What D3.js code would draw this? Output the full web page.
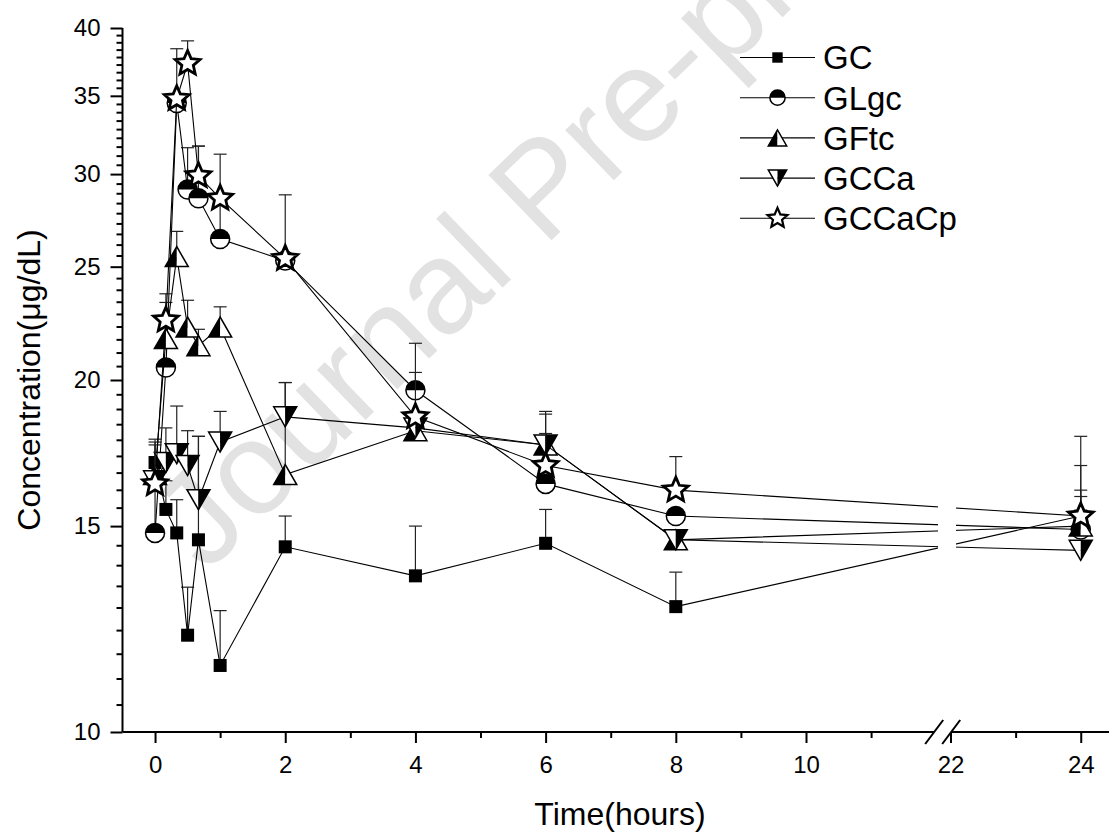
<!DOCTYPE html>
<html><head><meta charset="utf-8">
<script src="https://cdn.jsdelivr.net/npm/d3@7"></script>
<style>body{margin:0;background:#fff} text{font-family:"Liberation Sans",Arial,sans-serif}</style>
</head><body><svg id="c" width="1109" height="832"></svg>
<script>
// ---------------- data ----------------
const times = [0, 1/6, 1/3, 0.5, 2/3, 1, 2, 4, 6, 8, 24];
const seriesNames = ["GC", "GLgc", "GFtc", "GCCa", "GCCaCp"];
const GC       = [17.0, 15.5, 14.8, 12.1, 14.6, 11.4, 14.4, 13.6, 14.5, 12.8, 15.3];
const GC_sd    = [0.7, 0.9, 1.0, 1.2, 3.3, 1.3, 0.9, 1.4, 1.0, 0.9, 2.6];
const GLgc     = [14.8, 20.5, 34.5, 29.1, 28.6, 26.4, 25.3, 19.6, 16.3, 15.3, 14.9];
const GLgc_sd  = [3.0, 0, 0, 2.5, 3.1, 4.8, 3.5, 1.9, 0, 0, 2.0];
const GFtc     = [16.6, 21.7, 25.5, 22.2, 21.4, 22.2, 16.6, 18.1, 17.6, 14.6, 15.0];
const GFtc_sd  = [0, 1.6, 1.3, 1.2, 0.7, 0.9, 3.3, 0, 1.2, 0, 1.1];
const GCCa     = [16.4, 17.0, 17.3, 16.9, 15.8, 17.7, 18.6, 18.2, 17.6, 14.6, 14.3];
const GCCa_sd  = [0, 1.2, 1.7, 1.2, 2.1, 1.1, 1.3, 0, 1.1, 0, 0];
const GCCaCp   = [16.3, 22.5, 34.8, 37.3, 29.9, 28.6, 25.4, 18.6, 16.9, 16.1, 15.3];
const GCCaCp_sd= [1.3, 1.2, 3.6, 1.7, 1.8, 0, 0, 1.7, 1.1, 1.1, 0.6];
const markerTypes = ["square", "circle", "triUp", "triDown", "star"];

const yMajorTicks = [10, 15, 20, 25, 30, 35, 40];
const xTicksLeft = [0, 2, 4, 6, 8, 10];
const xMinorLeft = [1, 3, 5, 7, 9, 11];
const xTicksRight = [22, 24];
const xMinorRight = [23];
const xTitle = "Time(hours)";
const yTitle = "Concentration(μg/dL)";
const watermark = "Journal Pre-proof";

// ---------------- scales ----------------
const svg = d3.select("#c");
svg.append("rect").attr("width", 1109).attr("height", 832).attr("fill", "#fff");

const breakAt = [12.1, 21.88];
const xL = d3.scaleLinear().domain([-0.5, breakAt[0]]).range([122.5, 942.7]);
const xR = d3.scaleLinear().domain([breakAt[1], 24.5]).range([942.7, 1113.3]);
const x = t => (t <= breakAt[0] ? xL(t) : xR(t));
const y = d3.scaleLog().domain([10, 40]).range([732, 28]);
const xb = xL(breakAt[0]);
const axisY = y(10), axisX = xL(-0.5);

// ---------------- watermark ----------------
svg.append("text").text(watermark)
  .attr("transform", "translate(206,574) rotate(-44)")
  .attr("font-size", 132).attr("fill", "#e2e2e2");

// ---------------- axes ----------------
const axG = svg.append("g");
axG.append("line").attr("x1", axisX).attr("x2", xb - 8.5).attr("y1", axisY).attr("y2", axisY)
  .attr("stroke", "#000").attr("stroke-width", 2);
axG.append("line").attr("x1", xb + 8.5).attr("x2", xR(24.5)).attr("y1", axisY).attr("y2", axisY)
  .attr("stroke", "#000").attr("stroke-width", 2);
[-8.5, 8.5].forEach(o => {
  axG.append("line").attr("x1", xb + o - 9).attr("y1", axisY + 12).attr("x2", xb + o + 9).attr("y2", axisY - 12)
    .attr("stroke", "#000").attr("stroke-width", 2);
});
function xAxis(scale, major, minor) {
  const g1 = axG.append("g").attr("transform", `translate(0,${axisY})`)
    .call(d3.axisBottom(scale).tickValues(major).tickSize(11).tickSizeOuter(0).tickPadding(13).tickFormat(d3.format("d")));
  g1.select(".domain").remove();
  g1.selectAll(".tick line").attr("stroke-width", 2);
  g1.selectAll(".tick text").attr("font-size", 24).attr("fill", "#000").attr("font-family", '"Liberation Sans",Arial,sans-serif');
  const g2 = axG.append("g").attr("transform", `translate(0,${axisY})`)
    .call(d3.axisBottom(scale).tickValues(minor).tickSize(6).tickSizeOuter(0).tickFormat(""));
  g2.select(".domain").remove();
  g2.selectAll(".tick line").attr("stroke-width", 2);
}
xAxis(xL, xTicksLeft, xMinorLeft);
xAxis(xR, xTicksRight, xMinorRight);

const yMinor = [];
for (let i = 0; i < yMajorTicks.length - 1; i++)
  for (let k = 1; k < 9; k++) yMinor.push(yMajorTicks[i] + k * (yMajorTicks[i + 1] - yMajorTicks[i]) / 9);
const gy = axG.append("g").attr("transform", `translate(${axisX},0)`)
  .call(d3.axisLeft(y).tickValues(yMajorTicks).tickSize(12).tickSizeOuter(0).tickPadding(10).tickFormat(d3.format("d")));
gy.select(".domain").attr("stroke-width", 2).attr("d", `M0,${y(40)}V${axisY}`);
gy.selectAll(".tick line").attr("stroke-width", 2);
gy.selectAll(".tick text").attr("font-size", 24).attr("fill", "#000").attr("font-family", '"Liberation Sans",Arial,sans-serif');
const gy2 = axG.append("g").attr("transform", `translate(${axisX},0)`)
  .call(d3.axisLeft(y).tickValues(yMinor).tickSize(6).tickSizeOuter(0).tickFormat(""));
gy2.select(".domain").remove();
gy2.selectAll(".tick line").attr("stroke-width", 2);

svg.append("text").text(xTitle).attr("x", 620).attr("y", 825).attr("text-anchor", "middle").attr("font-size", 32);
svg.append("text").text(yTitle).attr("transform", `translate(40,${y(20)}) rotate(-90)`)
  .attr("text-anchor", "middle").attr("font-size", 32);

// ---------------- markers ----------------
function starPath(R, r) {
  const pts = [];
  for (let i = 0; i < 10; i++) {
    const a = -Math.PI / 2 + i * Math.PI / 5, rad = i % 2 ? r : R;
    pts.push([rad * Math.cos(a), rad * Math.sin(a)]);
  }
  return "M" + pts.map(p => p.join(",")).join("L") + "Z";
}
function drawMarker(g, type, s) {
  if (type === "square") {
    const h = 6.5 * s;
    g.append("rect").attr("x", -h).attr("y", -h).attr("width", 2 * h).attr("height", 2 * h).attr("fill", "#000");
  } else if (type === "circle") {
    const r = 9.5 * s;
    g.append("circle").attr("r", r).attr("fill", "#fff");
    g.append("path").attr("d", `M${-r},0A${r},${r} 0 0 1 ${r},0Z`).attr("fill", "#000");
    g.append("circle").attr("r", r).attr("fill", "none").attr("stroke", "#000").attr("stroke-width", 1.5);
  } else if (type === "triUp") {
    const w = 11.5 * s, h = 10 * s;
    g.append("path").attr("d", `M0,${-h}L${-w},${h}L0,${h}Z`).attr("fill", "#000");
    g.append("path").attr("d", `M0,${-h}L0,${h}L${w},${h}Z`).attr("fill", "#fff");
    g.append("path").attr("d", `M0,${-h}L${-w},${h}L${w},${h}Z`).attr("fill", "none").attr("stroke", "#000").attr("stroke-width", 1.5);
  } else if (type === "triDown") {
    const w = 11.5 * s, h = 10 * s;
    g.append("path").attr("d", `M0,${h}L${-w},${-h}L0,${-h}Z`).attr("fill", "#fff");
    g.append("path").attr("d", `M0,${h}L0,${-h}L${w},${-h}Z`).attr("fill", "#000");
    g.append("path").attr("d", `M0,${h}L${-w},${-h}L${w},${-h}Z`).attr("fill", "none").attr("stroke", "#000").attr("stroke-width", 1.5);
  } else if (type === "star") {
    g.append("path").attr("d", starPath(13 * s, 6 * s)).attr("fill", "#fff").attr("stroke", "#000")
      .attr("stroke-width", 2.8 * s).attr("stroke-linejoin", "miter");
  }
}

const defs = svg.append("defs");
const clip = defs.append("clipPath").attr("id", "gapclip");
clip.append("rect").attr("x", 0).attr("y", 0).attr("width", xb - 4.7).attr("height", 832);
clip.append("rect").attr("x", xb + 13.3).attr("y", 0).attr("width", 300).attr("height", 832);

const seriesVals = [GC, GLgc, GFtc, GCCa, GCCaCp];
const seriesSd = [GC_sd, GLgc_sd, GFtc_sd, GCCa_sd, GCCaCp_sd];
const line = d3.line().x(d => x(d.t)).y(d => y(d.v));

seriesVals.forEach((vals, si) => {
  const data = times.map((t, i) => ({ t, v: vals[i], sd: seriesSd[si][i] }));
  const g = svg.append("g");
  data.filter(d => d.sd > 0).forEach(d => {
    const cx = x(d.t), top = y(d.v + d.sd);
    g.append("line").attr("x1", cx).attr("x2", cx).attr("y1", y(d.v)).attr("y2", top).attr("stroke", "#222").attr("stroke-width", 1.2);
    g.append("line").attr("x1", cx - 6.5).attr("x2", cx + 6.5).attr("y1", top).attr("y2", top).attr("stroke", "#222").attr("stroke-width", 1.2);
  });
  g.append("path").attr("d", line(data)).attr("fill", "none").attr("stroke", "#000").attr("stroke-width", 1.1)
    .attr("clip-path", "url(#gapclip)");
  data.forEach(d => {
    const mg = g.append("g").attr("transform", `translate(${x(d.t)},${y(d.v)})`);
    drawMarker(mg, markerTypes[si], 1);
  });
});

// ---------------- legend ----------------
const legX1 = 740, legX2 = 815, legSym = 777.5, legText = 823, legY0 = 57.5, legDy = 40.2;
seriesNames.forEach((name, i) => {
  const ly = legY0 + i * legDy;
  const g = svg.append("g");
  g.append("line").attr("x1", legX1).attr("x2", legX2).attr("y1", ly).attr("y2", ly).attr("stroke", "#000").attr("stroke-width", 1.1);
  const mg = g.append("g").attr("transform", `translate(${legSym},${ly})`);
  drawMarker(mg, markerTypes[i], 0.8);
  g.append("text").text(name).attr("x", legText).attr("y", ly).attr("dy", "0.36em").attr("font-size", 33);
});
</script></body></html>
